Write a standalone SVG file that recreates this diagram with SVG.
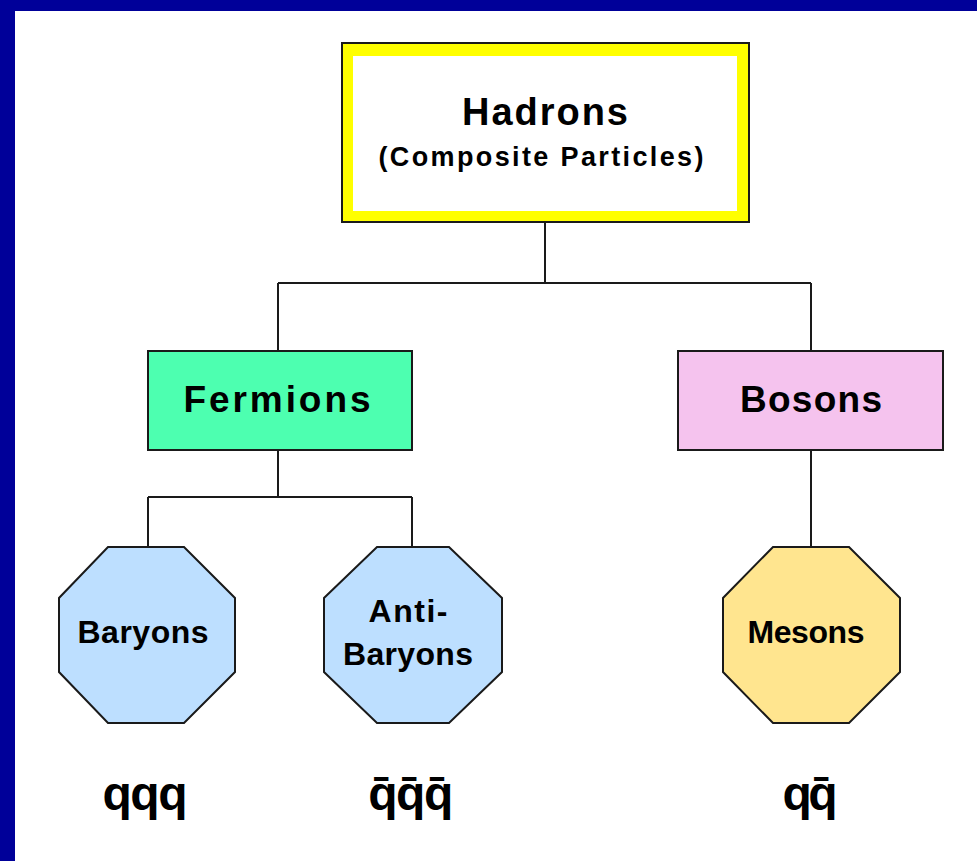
<svg xmlns="http://www.w3.org/2000/svg" width="977" height="861" viewBox="0 0 977 861">
<style>
.lbl{font-family:"Liberation Sans",Arial,sans-serif;font-weight:bold;fill:#000;text-anchor:middle}
.box{stroke:#1a1a1a;stroke-width:2}
.oct{stroke:#1a1a1a;stroke-width:2}
.conn{stroke:#1a1a1a;stroke-width:2;fill:none}
</style>
<rect x="0" y="0" width="977" height="861" fill="#ffffff"/>
<rect x="0" y="0" width="977" height="11" fill="#000099"/>
<rect x="0" y="0" width="15" height="861" fill="#000099"/>
<g id="connectors">
<path class="conn" d="M545 222 V283 M278 283 H811 M278 283 V351 M811 283 V351"/>
<path class="conn" d="M278 450 V497 M148 497 H412 M148 497 V547 M412 497 V547"/>
<path class="conn" d="M811 450 V547"/>
</g>
<g id="hadrons">
<rect class="box" x="342" y="43" width="407" height="179" fill="#ffff00"/>
<rect x="353" y="56" width="384" height="155" fill="#ffffff"/>
<text class="lbl" x="545" y="125" font-size="38" textLength="166" lengthAdjust="spacing">Hadrons</text>
<text class="lbl" x="541" y="166" font-size="27" textLength="325" lengthAdjust="spacing">(Composite Particles)</text>
</g>
<g id="fermions">
<rect class="box" x="148" y="351" width="264" height="99" fill="#4dffb0"/>
<text class="lbl" x="277" y="412" font-size="37" textLength="187" lengthAdjust="spacing">Fermions</text>
</g>
<g id="bosons">
<rect class="box" x="678" y="351" width="265" height="99" fill="#f5c3ee"/>
<text class="lbl" x="811" y="412" font-size="37" textLength="142" lengthAdjust="spacing">Bosons</text>
</g>
<g id="baryons">
<polygon class="oct" points="108,547 184,547 235,598 235,672 184,723 108,723 59,672 59,598" fill="#bddfff"/>
<text class="lbl" x="143" y="643" font-size="32" textLength="131" lengthAdjust="spacing">Baryons</text>
</g>
<g id="antibaryons">
<polygon class="oct" points="377,547 449,547 502,598 502,672 449,723 377,723 324,672 324,598" fill="#bddfff"/>
<text class="lbl" x="408" y="622" font-size="32" textLength="79" lengthAdjust="spacing">Anti-</text>
<text class="lbl" x="408" y="665" font-size="32" textLength="130" lengthAdjust="spacing">Baryons</text>
</g>
<g id="mesons">
<polygon class="oct" points="773,547 849,547 900,598 900,672 849,723 773,723 723,672 723,598" fill="#ffe58f"/>
<text class="lbl" x="806" y="643" font-size="32" textLength="117" lengthAdjust="spacing">Mesons</text>
</g>
<g id="formulas">
<text class="lbl" x="145" y="810" font-size="48" textLength="85" lengthAdjust="spacing">qqq</text>
<text class="lbl" x="410" y="810" font-size="48" textLength="85" lengthAdjust="spacing">q̄q̄q̄</text>
<text class="lbl" x="810" y="810" font-size="48" textLength="55" lengthAdjust="spacing">qq̄</text>
</g>
</svg>
